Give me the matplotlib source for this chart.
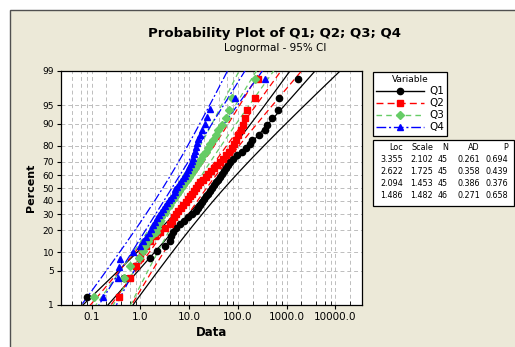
import numpy as np
import matplotlib
matplotlib.use("Agg")
import matplotlib.pyplot as plt
from matplotlib.patches import Rectangle
from matplotlib.lines import Line2D
from statistics import NormalDist

# data (sorted values of each sample)
q1 = [0.082, 0.45, 0.79, 1.6, 2.2, 3.2, 4.1, 4.3, 4.7, 5.4,
      6.5, 7.9, 9.5, 11.5, 13.9, 15.3, 16.8, 18.4, 20.2, 22.2,
      24.4, 26.8, 29.5, 32.4, 35.6, 39, 43, 47, 52, 57,
      62.5, 69, 79, 95, 121, 146, 176, 193, 268, 356,
      391, 494, 655, 687, 1680]
q2 = [0.37, 0.60, 0.83, 1.0, 1.10, 1.33, 1.6, 2.0, 2.56, 3.2,
      4.1, 4.5, 4.9, 5.4, 6.0, 6.9, 7.5, 8.7, 9.5, 10.5,
      11.5, 12.6, 13.9, 15.3, 16.8, 19.3, 22.2, 24.4, 28.1, 32.4,
      37.2, 43, 49, 57, 65, 75, 83, 91, 100, 115,
      127, 139, 153, 222, 256]
q3 = [0.11, 0.45, 0.6, 0.95, 1.15, 1.26, 1.46, 1.68, 2.1, 2.2,
      2.33, 2.56, 2.7, 2.9, 3.24, 3.56, 3.9, 4.3, 4.7, 5.2,
      5.7, 6.25, 6.9, 7.5, 8.3, 9.1, 10, 11, 12.1, 13.2,
      14.6, 16, 17.6, 19.3, 22.2, 24.4, 26.8, 30.9, 35.6, 39,
      47, 57, 65, 75, 222]
q4 = [0.168, 0.34, 0.36, 0.39, 0.72, 1.0, 1.15, 1.33, 1.5, 1.65,
      1.85, 2.0, 2.2, 2.44, 2.7, 2.9, 3.24, 3.56, 3.9, 4.3,
      4.7, 5.0, 5.2, 5.7, 6.25, 6.9, 7.5, 8.3, 8.7, 9.5,
      10, 11, 11.5, 12.1, 12.6, 13.2, 13.9, 14.6, 15.3, 16.8,
      18.4, 21.2, 23.3, 26.8, 87, 356]

names = ["Q1", "Q2", "Q3", "Q4"]
loc = [3.355, 2.622, 2.094, 1.486]
scale = [2.102, 1.725, 1.453, 1.482]
n_obs = [45, 45, 45, 46]
ad = [0.261, 0.358, 0.386, 0.271]
pval = [0.694, 0.439, 0.376, 0.658]

pct_ticks = [1, 5, 10, 20, 30, 40, 50, 60, 70, 80, 90, 95, 99]
x_ticks = [0.1, 1, 10, 100, 1000, 10000]
x_labels = ["0.1", "1.0", "10.0", "100.0", "1000.0", "10000.0"]

colors = ["black", "#FF0000", "#66CC66", "#0000FF"]
styles = ["-", (0, (5, 3)), (0, (4, 3)), (0, (7, 2, 1.5, 2))]
markers = ["o", "s", "D", "^"]
msizes = [4.5, 4.5, 4.0, 5.0]

nd = NormalDist()
def zq(p):
    return np.array([nd.inv_cdf(v) for v in np.atleast_1d(p)])

W, H = 515, 347
fig = plt.figure(figsize=(W / 100, H / 100), dpi=100, facecolor="white")
plt.rcParams["font.family"] = ["DejaVu Sans"]

# window frame
fig.patches.append(Rectangle((10 / W, -0.5), 2.0, 1 - 10 / H + 0.5,
                             transform=fig.transFigure, facecolor="#ECE9D8",
                             edgecolor="#505050", lw=1.0, zorder=-10))

ax = fig.add_axes([61 / W, 1 - 305 / H, 301 / W, 234 / H])
ax.set_facecolor("white")
ax.set_xscale("log")
ax.set_xlim(0.0235, 35000)
ax.set_ylim(zq(0.01)[0], zq(0.99)[0])

zz = np.linspace(-2.8, 2.8, 300)
data = [q1, q2, q3, q4]
for k, vals in enumerate(data):
    vals = np.sort(np.array(vals, dtype=float))
    n = n_obs[k]
    mu, s = loc[k], scale[k]
    center = mu + s * zz
    half = 1.96 * s * np.sqrt(1 / n + zz ** 2 / (2 * n))
    for curve in (center, center - half, center + half):
        ax.plot(np.exp(curve), zz, color=colors[k], ls=styles[k], lw=0.9,
                zorder=2 + k)
    pp = (np.arange(1, len(vals) + 1) - 0.3) / (len(vals) + 0.4)
    ax.plot(vals, zq(pp), ls="none", marker=markers[k], ms=msizes[k],
            color=colors[k], mec=colors[k], zorder=6 + k)

ax.set_yticks(zq(np.array(pct_ticks) / 100))
ax.set_yticklabels([str(p) for p in pct_ticks], fontsize=6.5)
ax.set_xticks(x_ticks)
ax.set_xticklabels(x_labels, fontsize=7.5)
ax.xaxis.set_minor_locator(matplotlib.ticker.LogLocator(base=10, subs=[2, 4, 6, 8]))
ax.xaxis.set_minor_formatter(matplotlib.ticker.NullFormatter())
ax.tick_params(axis="both", which="major", direction="out", length=3, width=0.8, pad=2)
ax.tick_params(axis="x", which="minor", direction="in", length=3, width=0.6)
ax.grid(True, which="both", axis="x", color="#BDBDBD", ls=(0, (4, 3)), lw=0.7)
ax.grid(True, which="major", axis="y", color="#BDBDBD", ls=(0, (4, 3)), lw=0.7)
ax.set_axisbelow(True)
for sp in ax.spines.values():
    sp.set_linewidth(0.9)

ax.set_xlabel("Data", fontsize=8.5, fontweight="bold", labelpad=3)
ax.set_ylabel("Percent", fontsize=8, fontweight="bold", labelpad=5)

fig.text(275 / W, 1 - 34 / H, "Probability Plot of Q1; Q2; Q3; Q4", ha="center",
         va="center", fontsize=9.5, fontweight="bold")
fig.text(275 / W, 1 - 48 / H, "Lognormal - 95% CI", ha="center", va="center",
         fontsize=7.5)

# legend
handles = [Line2D([], [], color=colors[k], ls=styles[k], lw=1.0, marker=markers[k],
                  ms=msizes[k]) for k in range(4)]
leg = fig.legend(handles, names, title="Variable", loc="upper left",
                 bbox_to_anchor=(373 / W, 1 - 72 / H), fontsize=7.5, title_fontsize=6.5,
                 frameon=True, fancybox=False, edgecolor="black", framealpha=1,
                 handlelength=4.6, handletextpad=0.5, labelspacing=0.2,
                 borderpad=0.3, borderaxespad=0)
leg.get_frame().set_linewidth(0.9)

# statistics table
fig.patches.append(Rectangle((373 / W, 1 - 206 / H), 141 / W, 66 / H,
                             transform=fig.transFigure, facecolor="white",
                             edgecolor="black", lw=0.9, zorder=1))
col_x = [403, 433, 448, 480, 508]
heads = ["Loc", "Scale", "N", "AD", "P"]
for cx, h in zip(col_x, heads):
    fig.text(cx / W, 1 - 148 / H, h, ha="right", va="center", fontsize=5.8)
row_y = [160, 172, 184, 196]
for k in range(4):
    row = [f"{loc[k]:.3f}", f"{scale[k]:.3f}", str(n_obs[k]), f"{ad[k]:.3f}",
           f"{pval[k]:.3f}"]
    for cx, t in zip(col_x, row):
        fig.text(cx / W, 1 - row_y[k] / H, t, ha="right", va="center", fontsize=5.8)

fig.savefig("out.png", dpi=100, facecolor=fig.get_facecolor())
